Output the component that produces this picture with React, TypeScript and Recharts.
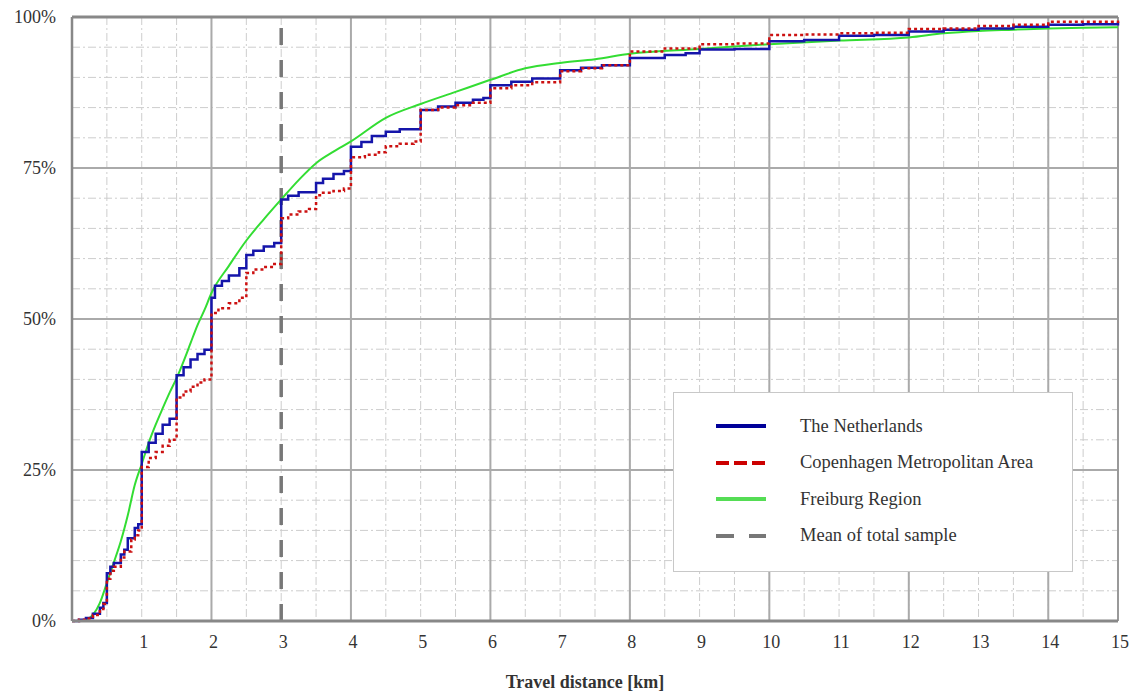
import { LineChart, Line, XAxis, YAxis, CartesianGrid, ReferenceLine } from 'recharts'

// cumulative share of trips (%) by travel distance (km)
const nlX = [0, 0.1, 0.2, 0.3, 0.4, 0.45, 0.5, 0.55, 0.6, 0.7, 0.75, 0.8, 0.9, 0.95, 1.0, 1.1, 1.2, 1.3, 1.4, 1.5, 1.6, 1.7, 1.8, 1.9, 2.0, 2.05, 2.15, 2.25, 2.4, 2.5, 2.6, 2.75, 2.9, 3.0, 3.1, 3.25, 3.5, 3.6, 3.75, 3.9, 4.0, 4.15, 4.3, 4.5, 4.7, 5.0, 5.25, 5.5, 5.75, 5.9, 6.0, 6.3, 6.6, 7.0, 7.3, 7.6, 8.0, 8.5, 8.8, 9.0, 9.5, 10.0, 10.5, 11.0, 11.5, 12.0, 12.5, 13.0, 13.5, 14.0, 14.5, 15.0]
const nlY = [0, 0.2, 0.5, 1.2, 2.2, 3, 7.9, 9, 9.6, 11, 11.8, 13.7, 15.4, 16, 28, 29.5, 31, 32.5, 33.5, 40.7, 42, 43.3, 44.2, 44.9, 53.5, 55.5, 56.3, 57.2, 58.4, 60.6, 61.3, 62, 62.6, 69.8, 70.4, 71, 72.5, 73.2, 74, 74.5, 78.5, 79.3, 80.3, 81, 81.4, 84.6, 85.2, 85.8, 86.3, 86.6, 88.7, 89.3, 89.8, 91.2, 91.6, 92, 93.2, 93.7, 94, 94.6, 94.7, 96.0, 96.2, 96.9, 97, 97.6, 97.9, 98.1, 98.4, 98.7, 98.8, 99.2]

const cphX = [0, 0.1, 0.2, 0.3, 0.4, 0.45, 0.5, 0.55, 0.6, 0.7, 0.75, 0.85, 0.9, 0.95, 1.0, 1.1, 1.2, 1.3, 1.4, 1.5, 1.6, 1.7, 1.8, 1.9, 2.0, 2.1, 2.25, 2.4, 2.5, 2.6, 2.75, 2.9, 3.0, 3.1, 3.25, 3.4, 3.5, 3.6, 3.75, 3.9, 4.0, 4.2, 4.4, 4.5, 4.7, 4.9, 5.0, 5.25, 5.5, 5.75, 6.0, 6.3, 6.6, 7.0, 7.3, 7.6, 8.0, 8.5, 9.0, 9.5, 10.0, 10.5, 11.0, 11.5, 12.0, 12.5, 13.0, 13.5, 14.0, 14.5, 15.0]
const cphY = [0, 0.2, 0.4, 1.0, 2.0, 2.8, 7.0, 8.3, 9, 10.5, 11.5, 13.5, 14.2, 15, 25.5, 27, 28, 29, 30, 37, 38, 38.8, 39.5, 40, 51, 51.8, 52.6, 53.5, 57.6, 58.2, 58.6, 59.1, 66.7, 67.3, 67.8, 68.2, 70.5, 70.9, 71.2, 71.6, 76.8, 77.2, 77.6, 78.6, 79, 79.4, 84.6, 85, 85.4, 85.8, 88.2, 88.7, 89.2, 91, 91.5, 92, 94.3, 94.8, 95.5, 95.6, 97, 97.1, 97.3, 97.4, 98.0, 98.1, 98.5, 98.7, 99.2, 99.2, 99.4]

const frX = [0, 0.1, 0.2, 0.3, 0.4, 0.5, 0.6, 0.7, 0.8, 0.9, 1.0, 1.1, 1.2, 1.3, 1.4, 1.5, 1.6, 1.7, 1.8, 1.9, 2.0, 2.25, 2.5, 2.75, 3.0, 3.25, 3.5, 3.75, 4.0, 4.5, 5.0, 5.5, 6.0, 6.5, 7.0, 7.5, 8.0, 9.0, 10.0, 11.0, 12.0, 12.5, 13.0, 13.5, 14.0, 14.5, 15.0]
const frY = [0, 0, 0.2, 1.0, 3.0, 6.3, 9.7, 13.2, 17.5, 22.5, 26, 29.5, 32.5, 35.2, 37.8, 40.2, 43, 46, 49, 51.5, 54.3, 58.8, 63, 66.5, 69.8, 73, 75.8, 77.7, 79.4, 83.3, 85.6, 87.6, 89.6, 91.5, 92.4, 93, 93.9, 94.7, 95.5, 96.1, 96.6, 97.3, 97.7, 97.9, 98.1, 98.2, 98.3]

const meanDistance = 3

const xTicks = [0, 0.5, 1, 1.5, 2, 2.5, 3, 3.5, 4, 4.5, 5, 5.5, 6, 6.5, 7, 7.5, 8, 8.5, 9, 9.5, 10, 10.5, 11, 11.5, 12, 12.5, 13, 13.5, 14, 14.5, 15]
const yTicks = [0, 5, 10, 15, 20, 25, 30, 35, 40, 45, 50, 55, 60, 65, 70, 75, 80, 85, 90, 95, 100]
const xMajor = [2, 4, 6, 8, 10, 12, 14]
const yMajor = [25, 50, 75]

const toPoints = (xs: number[], ys: number[]) => xs.map((x, i) => ({ x, y: ys[i] }))

const legendItems = [
  { label: 'The Netherlands', color: '#000099', dash: undefined as string | undefined },
  { label: 'Copenhagen Metropolitan Area', color: '#cc0000', dash: '13 5' },
  { label: 'Freiburg Region', color: '#55dd55', dash: undefined },
  { label: 'Mean of total sample', color: '#777777', dash: '18 15' },
]

const font = '"Liberation Serif", "Times New Roman", serif'

export default function App() {
  return (
    <div style={{ position: 'absolute', left: 0, top: 0, width: 1133, height: 694, background: '#fff', fontFamily: font }}>
      <LineChart width={1133} height={694} margin={{ top: 17, right: 15, bottom: 0, left: 0 }}>
        <CartesianGrid stroke="#cdcdcd" strokeDasharray="8 3 2 3" />
        <XAxis
          type="number"
          dataKey="x"
          domain={[0, 15]}
          ticks={xTicks}
          interval={0}
          tickFormatter={(v: number) => (v > 0 && Number.isInteger(v) ? String(v) : '')}
          height={73}
          tickSize={0}
          tickMargin={14}
          tick={{ fill: '#333', fontSize: 18, fontFamily: font, dx: 2 }}
          axisLine={{ stroke: '#888', strokeWidth: 3 }}
          label={{
            value: 'Travel distance [km]',
            position: 'insideBottom',
            offset: 6,
            dx: -10,
            style: { fill: '#333', fontSize: 18, fontWeight: 'bold', fontFamily: font },
          }}
        />
        <YAxis
          type="number"
          domain={[0, 100]}
          ticks={yTicks}
          interval={0}
          width={72}
          tickFormatter={(v: number) => (v % 25 === 0 ? `${v}%` : '')}
          tickSize={0}
          tickMargin={16}
          tick={{ fill: '#333', fontSize: 18, fontFamily: font }}
          axisLine={{ stroke: '#888', strokeWidth: 2.5 }}
        />
        {xMajor.map((v) => (
          <ReferenceLine key={`xm${v}`} x={v} stroke="#aaa" strokeWidth={2} />
        ))}
        {yMajor.map((v) => (
          <ReferenceLine key={`ym${v}`} y={v} stroke="#aaa" strokeWidth={2} />
        ))}
        <ReferenceLine x={15} stroke="#999" strokeWidth={2} />
        <ReferenceLine y={100} stroke="#888" strokeWidth={3} />
        <ReferenceLine x={meanDistance} stroke="#777" strokeWidth={3.5} strokeDasharray="17 15" />
        <Line
          data={toPoints(frX, frY)}
          dataKey="y"
          type="monotone"
          stroke="#33dd33"
          strokeWidth={2}
          dot={false}
          activeDot={false}
          isAnimationActive={false}
        />
        <Line
          data={toPoints(nlX, nlY)}
          dataKey="y"
          type="stepAfter"
          stroke="#1515aa"
          strokeWidth={2.5}
          dot={false}
          activeDot={false}
          isAnimationActive={false}
        />
        <Line
          data={toPoints(cphX, cphY)}
          dataKey="y"
          type="stepAfter"
          stroke="#cc1111"
          strokeWidth={2.5}
          strokeDasharray="3 3"
          dot={false}
          activeDot={false}
          isAnimationActive={false}
        />
      </LineChart>
      <div
        style={{
          position: 'absolute',
          left: 673,
          top: 392,
          width: 400,
          height: 180,
          boxSizing: 'border-box',
          border: '1.5px solid #c8c8c8',
          background: '#fff',
        }}
      >
        {legendItems.map((item, i) => (
          <div key={item.label} style={{ position: 'absolute', left: 0, top: 20 + i * 36.5, height: 26, display: 'flex', alignItems: 'center' }}>
            <svg width={126} height={26} style={{ display: 'block' }}>
              <line x1={42} x2={92} y1={13} y2={13} stroke={item.color} strokeWidth={4} strokeDasharray={item.dash} />
            </svg>
            <span style={{ fontSize: 18.5, color: '#333', fontFamily: font, whiteSpace: 'nowrap' }}>{item.label}</span>
          </div>
        ))}
      </div>
    </div>
  )
}
